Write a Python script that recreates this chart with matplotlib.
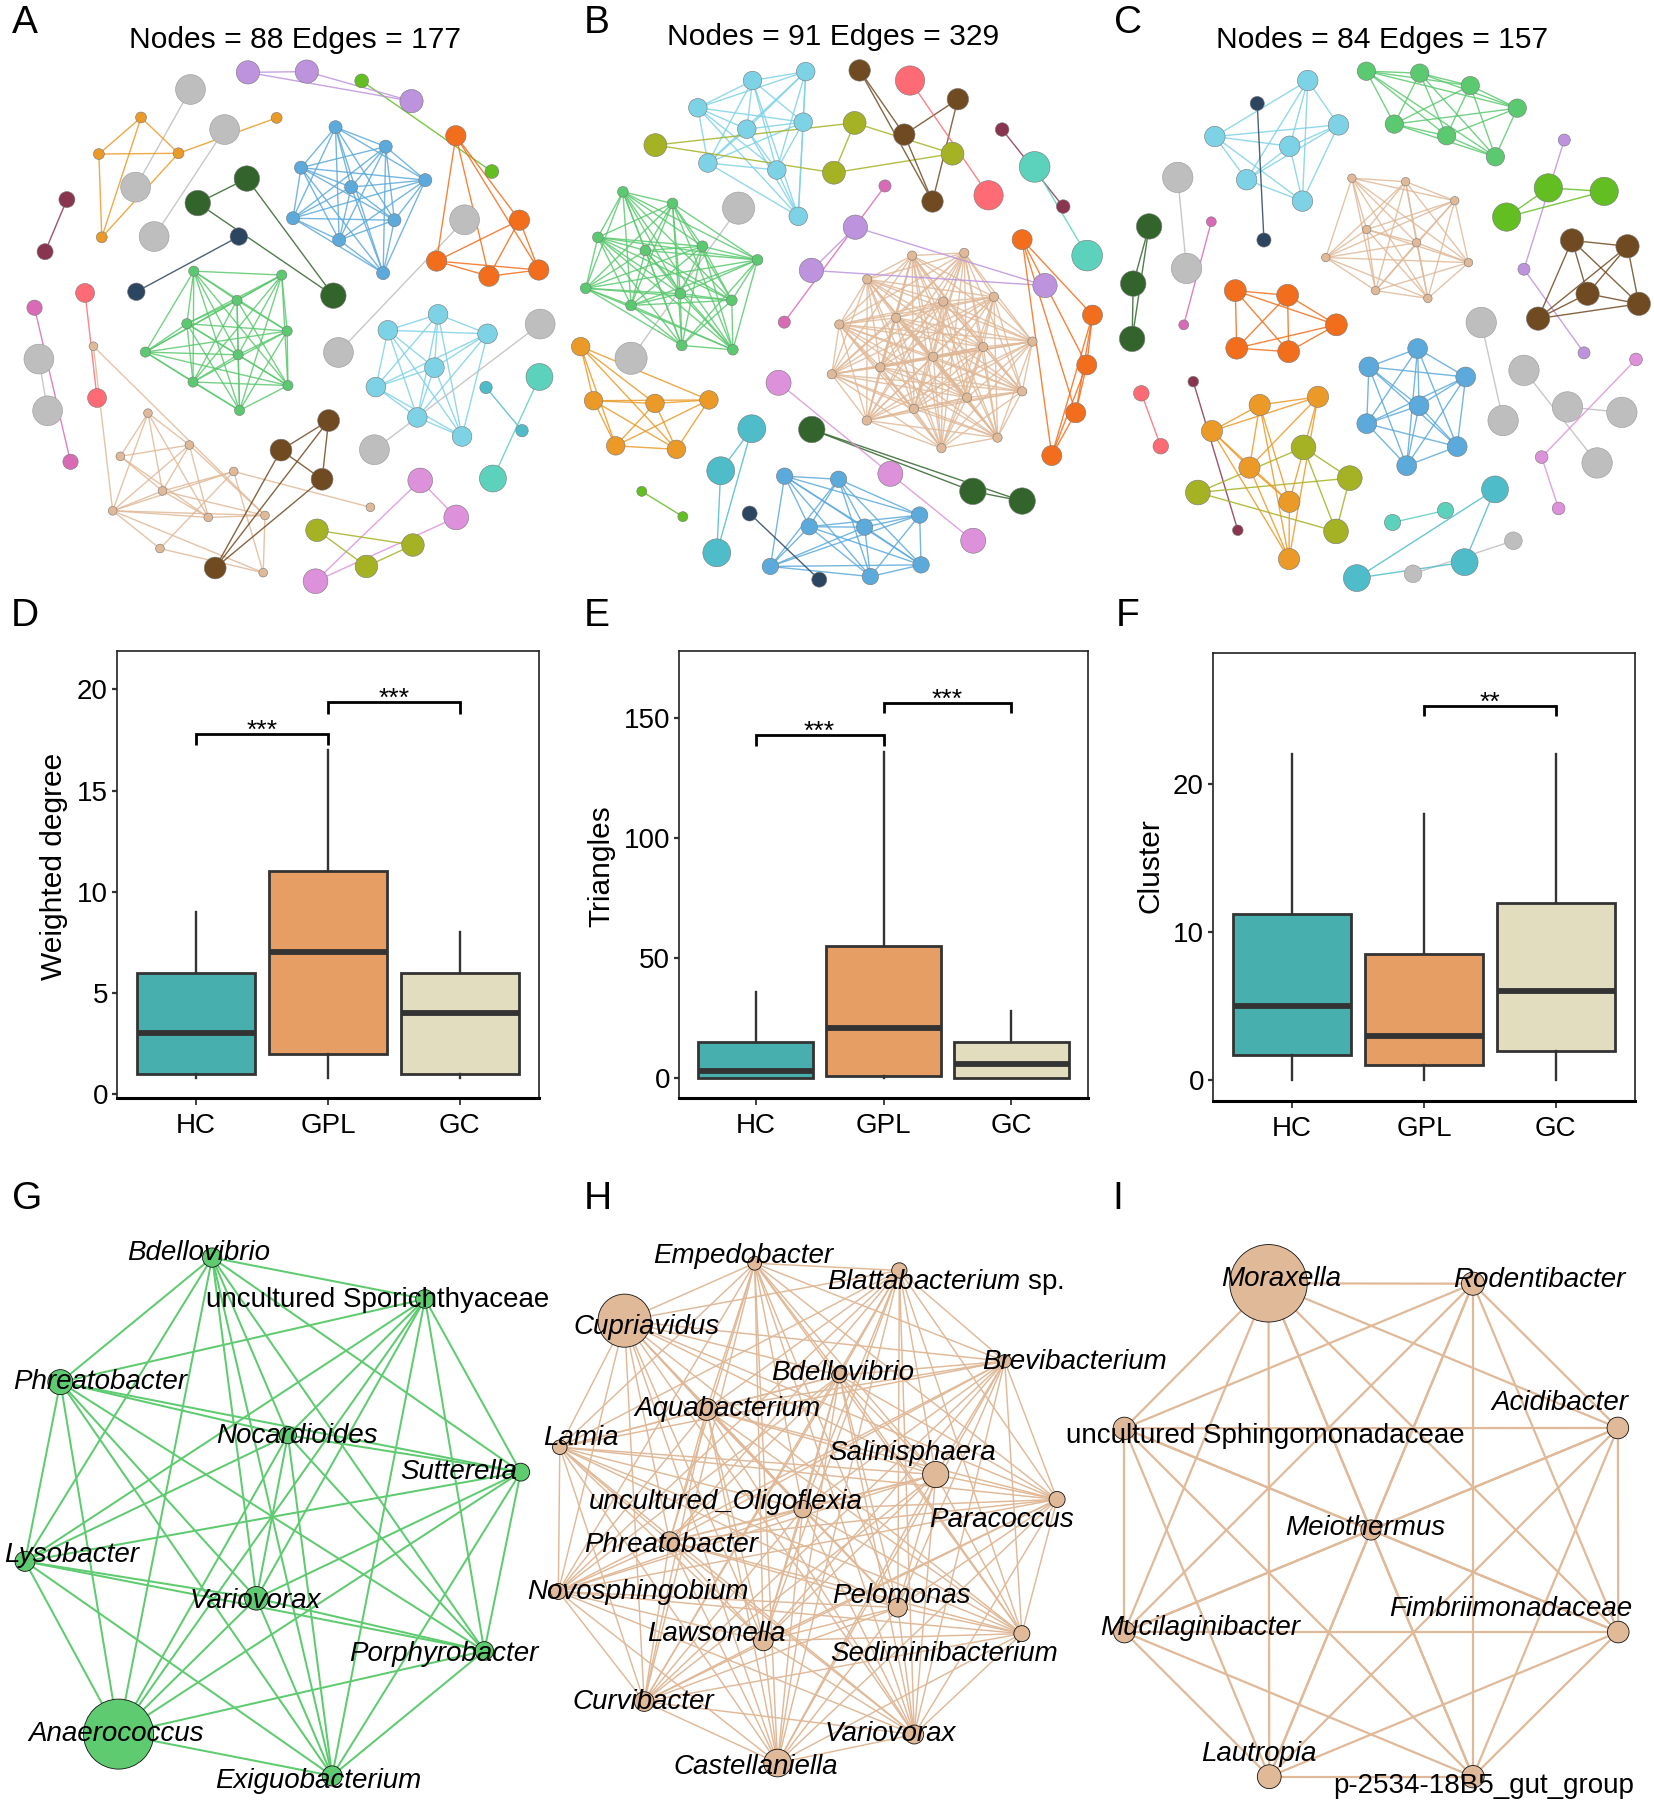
import itertools
import matplotlib
matplotlib.use("Agg")
import matplotlib.pyplot as plt
from matplotlib.collections import LineCollection
from matplotlib.patches import Ellipse

plt.rcParams['font.family'] = ['Liberation Sans', 'DejaVu Sans']
plt.rcParams['mathtext.fontset'] = 'custom'
plt.rcParams['mathtext.it'] = 'Liberation Sans:italic'
plt.rcParams['mathtext.rm'] = 'Liberation Sans'

W, H = 1654, 1800

# colours of the modules
PURPLE = '#BD93DE'; LIME = '#62BE21'; AMBER = '#EB9A28'; GRAY = '#BEBEBE'; DGREEN = '#32642C'
NAVY = '#2C4560'; MAROON = '#8A3550'; BLUE = '#5CAADB'; ORANGE = '#F26E1C'; GREEN = '#5BC96F'
SKY = '#7ED2E6'; PINK = '#D96BB6'; RED = '#FF6B75'; TAN = '#E0B998'; BROWN = '#704A21'
TEAL = '#4FBDC9'; MINT = '#5CD1BC'; ORCHID = '#DD91DA'; OLIVE = '#A5B223'

# ---------- network A (layout units)
a_purple = [(682,186),(844,184),(1132,260)]
a_lime = [(995,208),(1353,441)]
a_amber = [(388,302),(272,396),(491,394),(280,610),(761,303)]
a_amber_e = [(0,1),(0,2),(1,2),(0,3),(1,3),(2,3),(2,4)]
a_gray = [(524,230),(373,481),(618,333),(424,608),(1278,565),(931,906),(1486,833),(1030,1156),(107,923),(131,1056)]
a_gray_e = [(0,1),(2,3),(4,5),(6,7),(8,9)]
a_dgreen = [(679,459),(544,522),(917,760)]
a_navy = [(657,608),(375,750)]
a_maroon = [(184,513),(124,647)]
a_blue = [(923,327),(1061,377),(828,431),(1170,463),(966,481),(806,561),(1085,566),(933,617),(1054,702)]
a_orange = [(1254,349),(1429,566),(1201,671),(1345,710),(1482,694)]
a_green = [(533,697),(775,707),(652,772),(514,832),(790,851),(400,905),(655,912),(531,982),(792,991),(659,1055)]
a_sky = [(1205,808),(1067,849),(1341,858),(1195,945),(1034,995),(1148,1073),(1271,1122)]
a_pink = [(95,791),(194,1187)]
a_red = [(234,753),(267,1023)]
a_tan = [(257,890),(407,1062),(521,1144),(331,1173),(643,1212),(447,1262),(310,1313),(573,1330),(729,1325),(1019,1304),(440,1410),(724,1472)]
a_tan_e = [(0,6),(0,8),(1,2),(1,5),(1,6),(1,7),(1,3),(2,3),(2,5),(2,6),(2,7),(3,5),(3,7),(4,5),(4,6),(4,9),(4,10),(4,11),
           (5,6),(5,7),(5,8),(6,7),(6,8),(6,10),(6,11),(7,8),(8,11),(10,11),(2,8)]
a_brown = [(904,1081),(773,1157),(886,1232),(592,1460)]
a_teal = [(1337,996),(1436,1107)]
a_mint = [(1484,969),(1356,1230)]
a_orchid = [(1156,1235),(1255,1330),(868,1494)]
a_olive = [(872,1363),(1136,1401),(1008,1456)]
PANEL_A = [(a_gray,GRAY,41,a_gray_e),(a_lime,LIME,19,None),(a_purple,PURPLE,32,None),(a_amber,AMBER,15,a_amber_e),
           (a_dgreen,DGREEN,35,None),(a_navy,NAVY,24,None),(a_maroon,MAROON,22,None),(a_blue,BLUE,18,None),
           (a_orange,ORANGE,28,None),(a_green,GREEN,14,None),(a_sky,SKY,27,None),(a_pink,PINK,21,None),(a_red,RED,26,None),
           (a_tan,TAN,12,a_tan_e),(a_brown,BROWN,30,None),(a_teal,TEAL,17,None),(a_mint,MINT,37,None),
           (a_orchid,ORCHID,34,None),(a_olive,OLIVE,31,None)]

# ---------- network B
b_sky = [(539,207),(688,184),(386,277),(681,314),(523,332),(414,419),(607,437),(667,556)]
b_olive = [(267,373),(825,316),(1099,395),(767,444)]
b_olive_e = [(0,1),(0,3),(1,2),(1,3),(2,3)]
b_brown = [(839,181),(1114,255),(964,346),(1043,518)]
b_brown_e = [(0,2),(0,3),(1,2),(1,3),(2,3)]
b_red = [(980,207),(1200,502)]
b_maroon = [(1238,333),(1409,531)]
b_mint = [(1329,429),(1476,657)]
b_pink = [(910,478),(628,828)]
b_purple = [(827,584),(704,695),(1358,734)]
b_gray = [(500,535),(199,921)]
b_green = [(176,493),(315,523),(106,610),(239,644),(399,633),(553,668),(72,741),(199,785),(337,755),(481,772),(341,888),(484,899)]
b_tan = [(986,657),(1132,650),(860,718),(1073,775),(1215,763),(782,834),(941,817),(1323,878),(1185,892),
         (1045,917),(897,944),(761,962),(1294,1006),(1140,1022),(991,1051),(859,1081),(1225,1125),(1068,1152)]
b_orange = [(1294,616),(1491,810),(1475,938),(1444,1061),(1377,1171)]
b_amber = [(58,891),(94,1030),(266,1037),(417,1028),(156,1146),(326,1155)]
b_teal = [(537,1102),(450,1210),(439,1421)]
b_dgreen = [(705,1104),(1156,1263),(1294,1288)]
b_orchid = [(612,984),(925,1218),(1157,1390)]
b_orchid_e = [(0,1),(1,2)]
b_lime = [(229,1263),(344,1328)]
b_navy = [(531,1320),(726,1490)]
b_blue = [(629,1224),(780,1232),(698,1354),(853,1355),(1007,1324),(589,1456),(869,1482),(1011,1452)]
PANEL_B = [(b_gray,GRAY,45,None),(b_pink,PINK,17,None),(b_sky,SKY,26,None),(b_olive,OLIVE,32,b_olive_e),(b_brown,BROWN,30,b_brown_e),
           (b_red,RED,41,None),(b_maroon,MAROON,19,None),(b_mint,MINT,43,None),(b_green,GREEN,15,None),(b_tan,TAN,13,None),
           (b_purple,PURPLE,34,None),(b_orange,ORANGE,28,None),(b_amber,AMBER,26,None),(b_teal,TEAL,39,None),
           (b_dgreen,DGREEN,37,None),(b_orchid,ORCHID,35,b_orchid_e),(b_lime,LIME,14,None),(b_blue,BLUE,23,None),(b_navy,NAVY,21,None)]

# ---------- network C
c_green = [(754,183),(905,188),(1048,220),(1181,278),(833,319),(981,349),(1119,403)]
c_sky = [(588,207),(675,321),(325,351),(537,376),(415,462),(573,517)]
c_navy = [(445,266),(464,617)]
c_purple = [(1314,360),(1200,692),(1370,907)]
c_chain = [(0,1),(1,2)]
c_lime = [(1269,483),(1427,492),(1151,558)]
c_tan = [(713,458),(865,467),(1004,516),(755,590),(896,624),(639,662),(1043,675),(780,747),(928,767)]
c_gray = [(220,456),(245,690),(1079,829),(1141,1081),(1200,952),(1407,1190),(1323,1046),(1477,1060)]
c_gray_e = [(0,1),(2,3),(4,5),(6,7)]
c_gray_small = [(886,1475),(1170,1390)]
c_pink = [(315,570),(237,835)]
c_dgreen = [(139,582),(94,729),(91,871)]
c_brown = [(1336,618),(1493,633),(1380,755),(1525,781),(1240,819)]
c_orange = [(383,747),(531,759),(669,835),(387,895),(534,904)]
c_orange_e = [(0,1),(0,2),(0,3),(0,4),(1,2),(1,3),(1,4),(2,3),(2,4),(3,4)]
c_blue = [(899,896),(761,943),(1035,969),(903,1043),(755,1089),(1011,1148),(868,1197)]
c_red = [(117,1011),(172,1147)]
c_maroon = [(264,981),(390,1363)]
c_amber = [(452,1041),(617,1020),(317,1108),(423,1202),(536,1290),(535,1437)]
c_olive = [(576,1150),(707,1229),(277,1266),(668,1366)]
c_orchid = [(1517,924),(1250,1175),(1298,1307)]
c_mint = [(828,1343),(978,1312)]
c_teal = [(1118,1258),(1032,1445),(727,1486)]
PANEL_C = [(c_gray,GRAY,43,c_gray_e),(c_gray_small,GRAY,25,None),(c_pink,PINK,14,None),(c_sky,SKY,29,None),(c_navy,NAVY,20,None),(c_green,GREEN,26,None),
           (c_purple,PURPLE,17,c_chain),(c_lime,LIME,40,None),(c_tan,TAN,12,None),(c_dgreen,DGREEN,36,None),(c_brown,BROWN,33,None),
           (c_orange,ORANGE,31,c_orange_e),(c_blue,BLUE,28,None),(c_red,RED,22,None),(c_maroon,MAROON,15,None),
           (c_olive,OLIVE,35,None),(c_amber,AMBER,30,None),(c_orchid,ORCHID,18,c_chain),(c_mint,MINT,23,None),(c_teal,TEAL,38,None)]

# ---------- hub networks
g_names = ['Bdellovibrio','uncultured Sporichthyaceae','Phreatobacter','Nocardioides','Sutterella','Lysobacter','Variovorax','Porphyrobacter','Anaerococcus','Exiguobacterium']
g_xy = [(594,218),(1190,321),(169,528),(806,660),(1458,752),(70,974),(718,1066),(1356,1197),(332,1404),(930,1508)]
g_r = [27,26,35,24,25,28,33,26,98,28]
g_lab = [(555,200),(1057,317),(280,521),(832,654),(1285,745),(200,952),(714,1065),(1243,1197),(326,1397),(890,1514)]
g_roman = ['uncultured Sporichthyaceae']

h_names = ['Empedobacter',r'$\mathit{Blattabacterium}$ sp.','Cupriavidus','Brevibacterium','Bdellovibrio','Aquabacterium','Lamia','Salinisphaera','Paracoccus',
           'uncultured_Oligoflexia','Phreatobacter','Novosphingobium','Pelomonas','Lawsonella','Sediminibacterium','Curvibacter','Variovorax','Castellaniella']
h_xy = [(618,232),(1016,250),(260,375),(1306,476),(851,511),(486,596),(82,690),(1116,758),(1450,820),(750,844),(384,924),(78,1049),(1012,1089),(642,1172),(1353,1154),(314,1323),(1057,1405),(681,1476)]
h_r = [19,21,73,18,21,30,20,36,22,24,26,22,26,27,22,27,26,38]
h_lab = [(587,207),(1143,272),(320,385),(1499,470),(861,499),(542,589),(140,661),(1052,698),(1296,865),(538,820),(388,927),(296,1043),(1023,1053),(512,1147),(1138,1197),(312,1318),(992,1397),(621,1478)]
h_roman = [r'$\mathit{Blattabacterium}$ sp.']

i_names = ['Moraxella','Rodentibacter','uncultured Sphingomonadaceae','Acidibacter','Meiothermus','Mucilaginibacter','Fimbriimonadaceae','Lautropia','p-2534-18B5_gut_group']
i_xy = [(533,282),(1082,283),(146,643),(1471,642),(808,896),(146,1150),(1472,1150),(535,1510),(1082,1510)]
i_r = [104,31,30,29,27,29,29,32,30]
i_lab = [(566,265),(1260,266),(525,655),(1315,572),(792,884),(350,1133),(1183,1086),(506,1447),(1110,1525)]
i_roman = ['uncultured Sphingomonadaceae','p-2534-18B5_gut_group']

# ---------- box plots: q1, median, q3, whisker low, whisker high
groups = ['HC','GPL','GC']
box_colors = ['#48AFAF','#E79E65','#E2DDBF']
d_q1 = [1,2,1];      d_med = [3,7,4];     d_q3 = [6,11,6];     d_lo = [0.8,0.8,0.8]; d_hi = [9,17,8]
e_q1 = [0,1,0];      e_med = [3,21,6];    e_q3 = [15,55,15];   e_lo = [0,0,0];       e_hi = [36,136,28]
f_q1 = [1.7,1,2];    f_med = [5,3,6];     f_q3 = [11.2,8.5,12];f_lo = [0,0,0];       f_hi = [22,18,22]
d_ticks = [0,5,10,15,20]; e_ticks = [0,50,100,150]; f_ticks = [0,10,20]

fig = plt.figure(figsize=(W/100, H/100), dpi=100, facecolor='white')

def rect(x0, y0, x1, y1):
    return [x0/W, 1-y1/H, (x1-x0)/W, (y1-y0)/H]

def net_axes(x0, y0, w, h):
    # every layout spans 0..1568 in both directions over its own region
    ax = fig.add_axes(rect(x0, y0, x0+w, y0+h))
    ax.set_xlim(0, 1568); ax.set_ylim(1568, 0)
    ax.axis('off'); ax.patch.set_alpha(0)
    return ax

def draw_group(ax, pts, color, r, edges, lw, nec, nlw, alpha, aspect):
    if edges is None:
        edges = list(itertools.combinations(range(len(pts)), 2))
    segs = [(pts[a], pts[b]) for a, b in edges]
    ax.add_collection(LineCollection(segs, colors=color, linewidths=lw, alpha=alpha, zorder=2))
    radii = r if isinstance(r, list) else [r]*len(pts)
    for p, rr in zip(pts, radii):
        ax.add_patch(Ellipse(p, 2*rr, 2*rr*aspect, facecolor=color, edgecolor=nec, linewidth=nlw, zorder=3))

def network(panel, x0, y0, w, h):
    ax = net_axes(x0, y0, w, h)
    for pts, col, r, edges in panel:
        ec = '#999999' if col == GRAY else '#777777'
        draw_group(ax, pts, col, r, edges, 1.0, ec, 0.4, 0.85, w/h)
    return ax

def hub(names, xy, radii, labels, roman, color, lw, x0, y0, w, h):
    ax = net_axes(x0, y0, w, h)
    draw_group(ax, xy, color, radii, None, lw, '#111111', 0.6, 1.0, w/h)
    for n, (lx, ly) in zip(names, labels):
        ax.text(lx, ly + 7, n, fontsize=20, ha='center', va='center', color='black', zorder=5,
                style='normal' if n in roman else 'italic', clip_on=False)

network(PANEL_A, 0, 0, 570, 610)
network(PANEL_B, 560, 0, 560, 610)
network(PANEL_C, 1100, 0, 554, 610)
hub(g_names, g_xy, g_r, g_lab, g_roman, '#5FCB70', 1.45, 0, 1170, 560, 630)
hub(h_names, h_xy, h_r, h_lab, h_roman, TAN, 1.05, 530, 1170, 570, 630)
hub(i_names, i_xy, i_r, i_lab, i_roman, TAN, 1.6, 1070, 1170, 584, 630)

def box(rc, q1, med, q3, lo, hi, ticks, ylim, ylabel, ylab_x, brackets):
    ax = fig.add_axes(rect(*rc))
    stats = [dict(q1=a, med=b, q3=c, whislo=d, whishi=e, fliers=[]) for a, b, c, d, e in zip(q1, med, q3, lo, hi)]
    bp = ax.bxp(stats, positions=[1,2,3], widths=0.9, showcaps=False, showfliers=False, patch_artist=True,
                boxprops=dict(edgecolor='#333333', linewidth=2),
                medianprops=dict(color='#333333', linewidth=4.2, solid_capstyle='butt'),
                whiskerprops=dict(color='#333333', linewidth=1.7))
    for p, c in zip(bp['boxes'], box_colors):
        p.set_facecolor(c)
    ax.set_xlim(0.4, 3.6); ax.set_ylim(*ylim)
    ax.set_xticks([1,2,3], groups); ax.set_yticks(ticks)
    ax.tick_params(axis='x', length=5, width=1.3, labelsize=20, pad=6, color='#333333')
    ax.tick_params(axis='y', length=3.5, width=1.6, labelsize=20, pad=3, color='#333333')
    for s in ax.spines.values():
        s.set_linewidth(1.2); s.set_color('#222222')
    ax.spines['bottom'].set_linewidth(2.2); ax.spines['bottom'].set_color('black')
    fig.text(ylab_x/W, 1-866/H, ylabel, rotation=90, fontsize=21.5, ha='center', va='center')
    span = ylim[1]-ylim[0]
    for a, b, y, tip, label in brackets:
        ax.plot([a, a, b, b], [tip, y, y, tip], color='black', lw=2.0, solid_joinstyle='miter', solid_capstyle='butt')
        ax.text((a+b)/2, y + span*0.012, label, fontsize=19, ha='center', va='center_baseline', color='black')
    return ax

d_br = [(1,2,17.8,17.25,'***'),(2,3,19.4,18.8,'***')]
e_br = [(1,2,143,138.6,'***'),(2,3,156.5,152,'***')]
f_br = [(2,3,25.3,24.6,'**')]
box((117,651,539,1098), d_q1,d_med,d_q3,d_lo,d_hi,d_ticks,(-0.2,21.9),'Weighted degree',54,d_br)
box((679,651,1088,1098), e_q1,e_med,e_q3,e_lo,e_hi,e_ticks,(-8.3,178),'Triangles',601,e_br)
box((1213,653,1635,1101), f_q1,f_med,f_q3,f_lo,f_hi,f_ticks,(-1.4,28.85),'Cluster',1151,f_br)

# titles and panel letters
titles = ['Nodes = 88 Edges = 177','Nodes = 91 Edges = 329','Nodes = 84 Edges = 157']
title_pos = [(295,40),(833,37),(1382,40)]
for t, (x, y) in zip(titles, title_pos):
    fig.text(x/W, 1-y/H, t, fontsize=21.6, ha='center', va='center')
letters = list('ABCDEFGHI')
letter_pos = [(25,33),(597,33),(1128,33),(25,626),(597,626),(1128,626),(27,1209),(598,1209),(1118,1209)]
for t, (x, y) in zip(letters, letter_pos):
    fig.text(x/W, 1-y/H, t, fontsize=28, ha='center', va='baseline')

fig.savefig('out.png', dpi=100)
